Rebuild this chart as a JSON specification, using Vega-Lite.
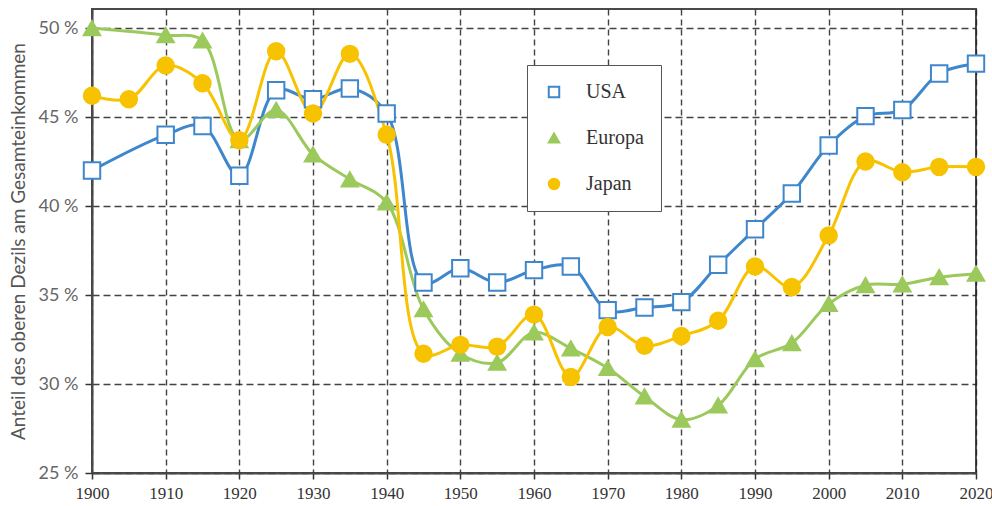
{
  "$schema": "https://vega.github.io/schema/vega-lite/v6.json",
  "autosize": {"type": "none"},
  "padding": {"left": 92, "top": 9, "right": 16, "bottom": 33},
  "width": 884,
  "height": 464,
  "background": "white",
  "config": {
    "view": {"stroke": "#4a4a4a", "strokeWidth": 2},
    "axis": {
      "domainColor": "#4a4a4a",
      "domainWidth": 2,
      "tickColor": "#333",
      "tickWidth": 1.5,
      "gridColor": "#222",
      "gridWidth": 1.4,
      "gridOpacity": 0.85
    }
  },
  "data": {
    "values": [
      {"year": 1900, "country": "USA", "value": 42.0},
      {"year": 1910, "country": "USA", "value": 44.0},
      {"year": 1915, "country": "USA", "value": 44.5},
      {"year": 1920, "country": "USA", "value": 41.7},
      {"year": 1925, "country": "USA", "value": 46.5},
      {"year": 1930, "country": "USA", "value": 46.0},
      {"year": 1935, "country": "USA", "value": 46.6},
      {"year": 1940, "country": "USA", "value": 45.2},
      {"year": 1945, "country": "USA", "value": 35.7},
      {"year": 1950, "country": "USA", "value": 36.5},
      {"year": 1955, "country": "USA", "value": 35.7},
      {"year": 1960, "country": "USA", "value": 36.4},
      {"year": 1965, "country": "USA", "value": 36.6},
      {"year": 1970, "country": "USA", "value": 34.15},
      {"year": 1975, "country": "USA", "value": 34.3},
      {"year": 1980, "country": "USA", "value": 34.6},
      {"year": 1985, "country": "USA", "value": 36.7},
      {"year": 1990, "country": "USA", "value": 38.7},
      {"year": 1995, "country": "USA", "value": 40.7},
      {"year": 2000, "country": "USA", "value": 43.4},
      {"year": 2005, "country": "USA", "value": 45.05},
      {"year": 2010, "country": "USA", "value": 45.4},
      {"year": 2015, "country": "USA", "value": 47.45},
      {"year": 2020, "country": "USA", "value": 48.0},
      {"year": 1900, "country": "Europa", "value": 50.0},
      {"year": 1910, "country": "Europa", "value": 49.6},
      {"year": 1915, "country": "Europa", "value": 49.3},
      {"year": 1920, "country": "Europa", "value": 43.7},
      {"year": 1925, "country": "Europa", "value": 45.4},
      {"year": 1930, "country": "Europa", "value": 42.9},
      {"year": 1935, "country": "Europa", "value": 41.5},
      {"year": 1940, "country": "Europa", "value": 40.2},
      {"year": 1945, "country": "Europa", "value": 34.2},
      {"year": 1950, "country": "Europa", "value": 31.7},
      {"year": 1955, "country": "Europa", "value": 31.2},
      {"year": 1960, "country": "Europa", "value": 32.9},
      {"year": 1965, "country": "Europa", "value": 32.0},
      {"year": 1970, "country": "Europa", "value": 30.9},
      {"year": 1975, "country": "Europa", "value": 29.3},
      {"year": 1980, "country": "Europa", "value": 28.0},
      {"year": 1985, "country": "Europa", "value": 28.8},
      {"year": 1990, "country": "Europa", "value": 31.4},
      {"year": 1995, "country": "Europa", "value": 32.3},
      {"year": 2000, "country": "Europa", "value": 34.5},
      {"year": 2005, "country": "Europa", "value": 35.55},
      {"year": 2010, "country": "Europa", "value": 35.6},
      {"year": 2015, "country": "Europa", "value": 36.0},
      {"year": 2020, "country": "Europa", "value": 36.2},
      {"year": 1900, "country": "Japan", "value": 46.2},
      {"year": 1905, "country": "Japan", "value": 46.0},
      {"year": 1910, "country": "Japan", "value": 47.9},
      {"year": 1915, "country": "Japan", "value": 46.9},
      {"year": 1920, "country": "Japan", "value": 43.7},
      {"year": 1925, "country": "Japan", "value": 48.7},
      {"year": 1930, "country": "Japan", "value": 45.2},
      {"year": 1935, "country": "Japan", "value": 48.55},
      {"year": 1940, "country": "Japan", "value": 44.0},
      {"year": 1945, "country": "Japan", "value": 31.7},
      {"year": 1950, "country": "Japan", "value": 32.2},
      {"year": 1955, "country": "Japan", "value": 32.1},
      {"year": 1960, "country": "Japan", "value": 33.9},
      {"year": 1965, "country": "Japan", "value": 30.4},
      {"year": 1970, "country": "Japan", "value": 33.2},
      {"year": 1975, "country": "Japan", "value": 32.15},
      {"year": 1980, "country": "Japan", "value": 32.7},
      {"year": 1985, "country": "Japan", "value": 33.55},
      {"year": 1990, "country": "Japan", "value": 36.6},
      {"year": 1995, "country": "Japan", "value": 35.45},
      {"year": 2000, "country": "Japan", "value": 38.35},
      {"year": 2005, "country": "Japan", "value": 42.5},
      {"year": 2010, "country": "Japan", "value": 41.9},
      {"year": 2015, "country": "Japan", "value": 42.2},
      {"year": 2020, "country": "Japan", "value": 42.2}
    ]
  },
  "encoding": {
    "x": {
      "field": "year",
      "type": "quantitative",
      "scale": {"domain": [1900, 2020], "nice": false, "zero": false},
      "axis": {
        "title": null,
        "values": [1900, 1910, 1920, 1930, 1940, 1950, 1960, 1970, 1980, 1990, 2000, 2010, 2020],
        "format": "d",
        "grid": true,
        "gridDash": [6, 4],
        "tickSize": 6,
        "labelPadding": 6,
        "labelFont": "Liberation Serif",
        "labelFontSize": 17,
        "labelColor": "#333",
        "labelFlush": false
      }
    },
    "y": {
      "field": "value",
      "type": "quantitative",
      "scale": {"domain": [25, 51.07], "nice": false, "zero": false},
      "axis": {
        "title": "Anteil des oberen Dezils am Gesamteinkommen",
        "titleFont": "Lato",
        "titleFontWeight": "normal",
        "titleFontSize": 19,
        "titleColor": "#555",
        "titlePadding": 10,
        "values": [25, 30, 35, 40, 45, 50],
        "labelExpr": "datum.value + ' %'",
        "grid": true,
        "gridDash": [7, 4],
        "tickSize": 7,
        "labelPadding": 7,
        "labelFont": "Lato",
        "labelFontSize": 18,
        "labelColor": "#666"
      }
    }
  },
  "layer": [
    {
      "mark": {"type": "line", "strokeWidth": 3, "interpolate": "catmull-rom"},
      "encoding": {
        "color": {
          "field": "country",
          "type": "nominal",
          "scale": {"domain": ["USA", "Europa", "Japan"], "range": ["#3F87CC", "#9CC95C", "#F7C300"]},
          "legend": {
            "title": null,
            "orient": "none",
            "legendX": 435,
            "legendY": 56,
            "padding": 17,
            "symbolSize": 110,
            "symbolStrokeWidth": 2,
            "rowPadding": 26,
            "labelOffset": 22,
            "labelFont": "Liberation Serif",
            "labelFontSize": 20,
            "labelColor": "#333",
            "strokeColor": "#555",
            "fillColor": "white"
          }
        }
      }
    },
    {
      "mark": {"type": "point", "filled": true, "opacity": 1, "strokeWidth": 2, "size": 270},
      "encoding": {
        "shape": {
          "field": "country",
          "type": "nominal",
          "scale": {"domain": ["USA", "Europa", "Japan"], "range": ["square", "triangle-up", "circle"]},
          "legend": null
        },
        "fill": {
          "field": "country",
          "type": "nominal",
          "scale": {"domain": ["USA", "Europa", "Japan"], "range": ["#ffffff", "#9CC95C", "#F7C300"]},
          "legend": null
        },
        "stroke": {
          "field": "country",
          "type": "nominal",
          "scale": {"domain": ["USA", "Europa", "Japan"], "range": ["#3F87CC", "#9CC95C", "#F7C300"]},
          "legend": null
        }
      }
    }
  ]
}
